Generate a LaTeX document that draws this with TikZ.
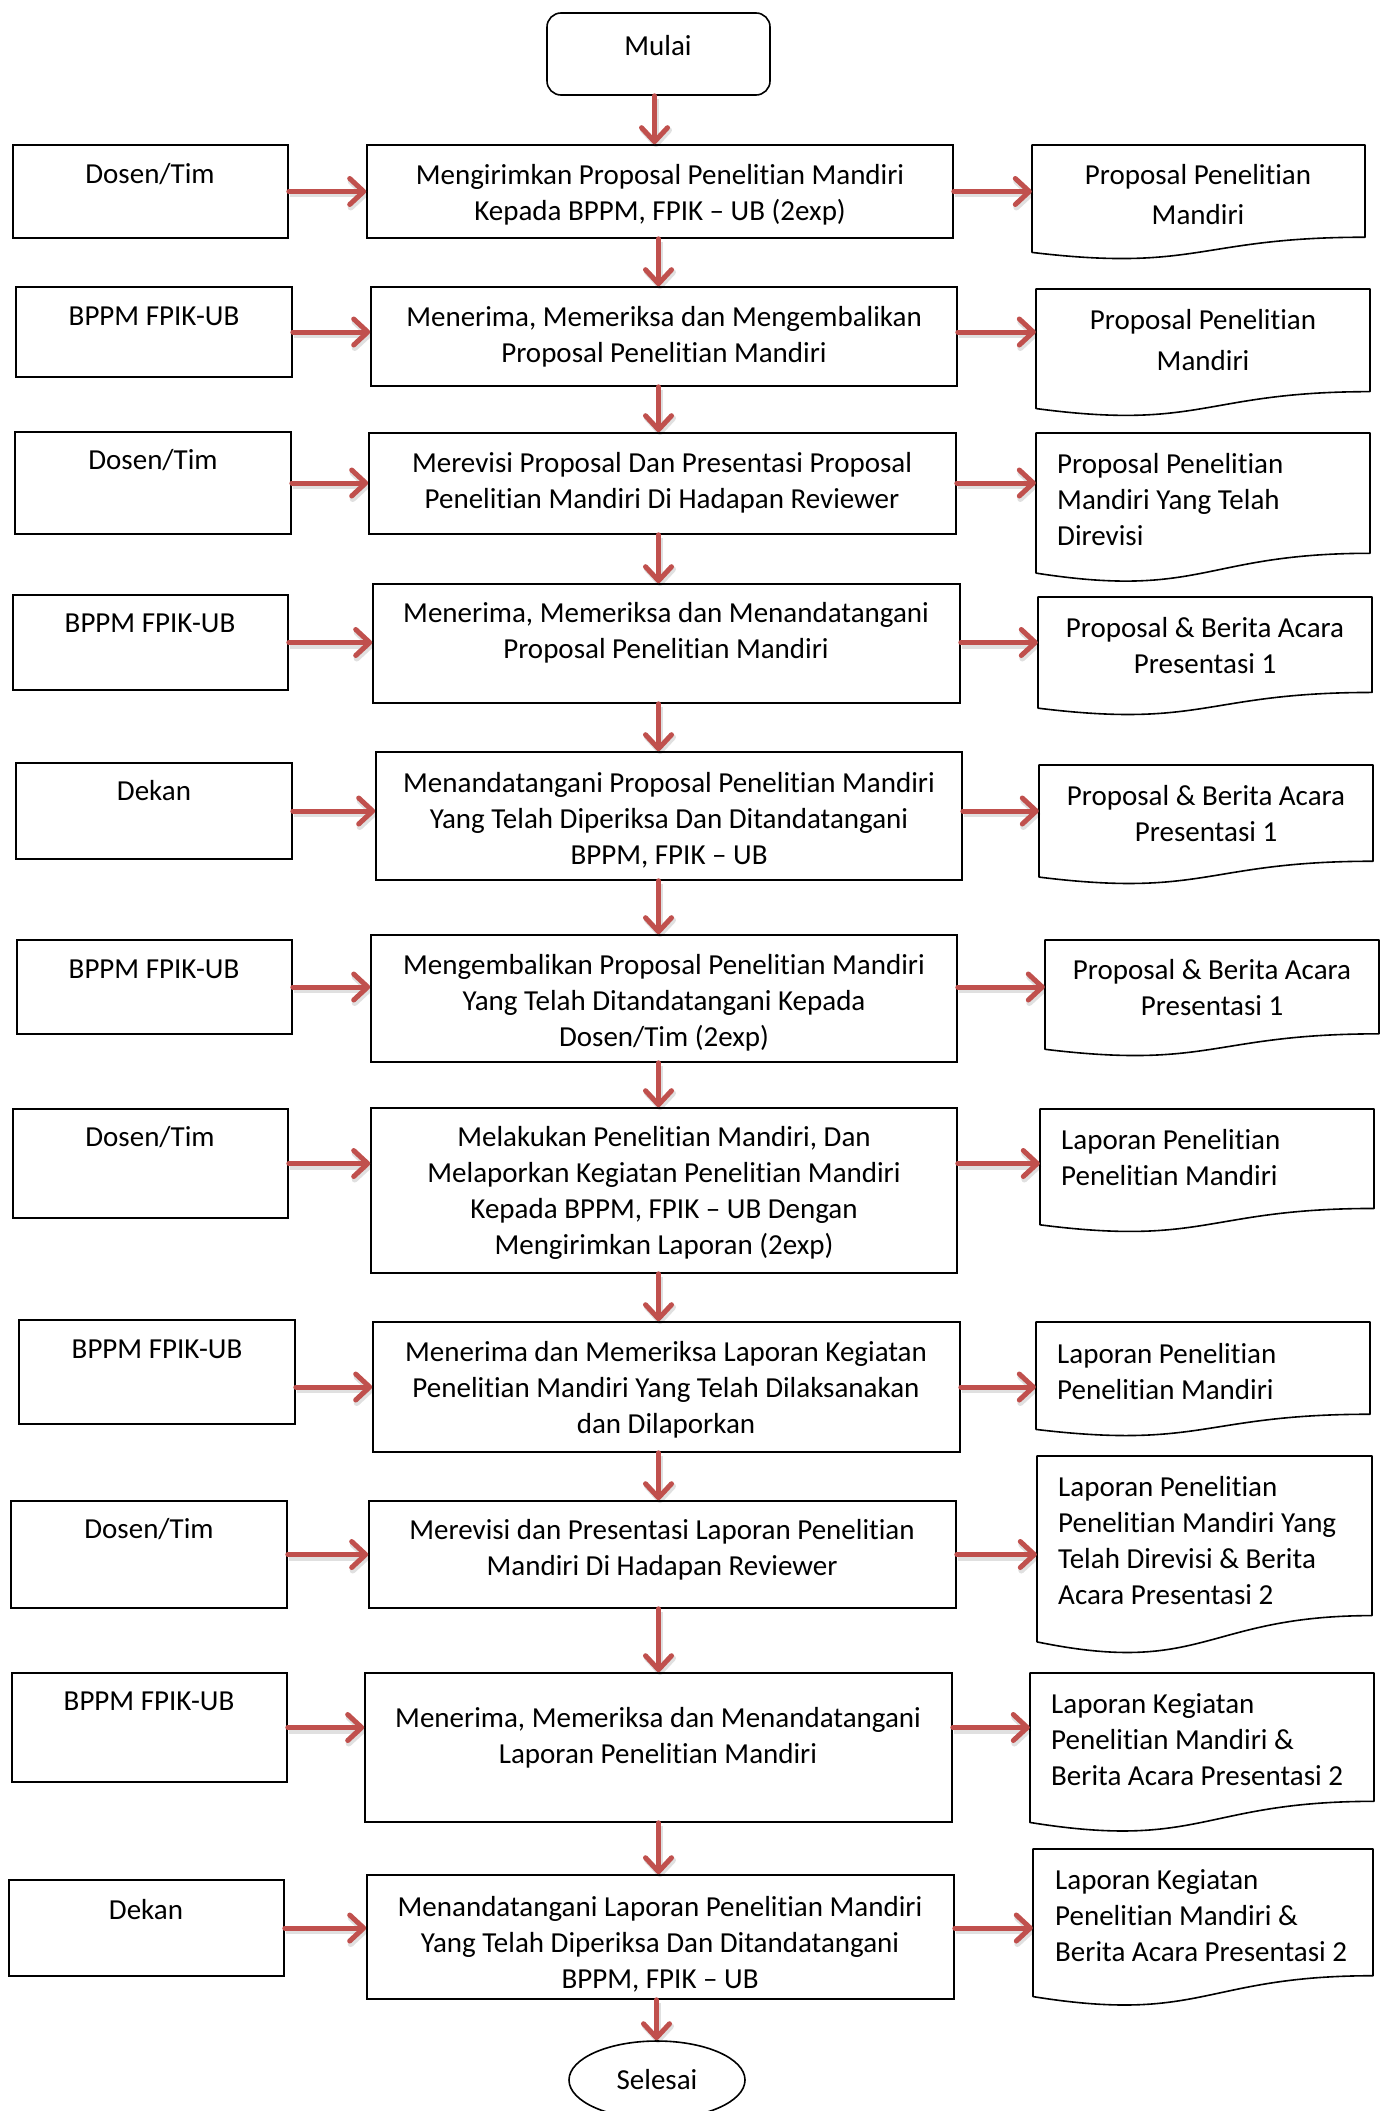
\documentclass[tikz,border=0pt]{standalone}
\usepackage{fontspec}
\setmainfont{Carlito}[Ligatures={NoCommon,NoContextual}]
\usetikzlibrary{arrows.meta,shapes.geometric,calc}
\definecolor{arrred}{HTML}{C0504D}
\newcommand\boxat[5]{%
  \node[box, minimum width={#4-#2}, minimum height={#5-#3}] (#1) at ({(#2+#4)/2},{(#3+#5)/2}) {};}
\newcommand\docat[5]{%
  \node[inner sep=0, minimum width={#4-#2}, minimum height={0.802*#5}] (#1) at ({(#2+#4)/2},{#3+0.401*#5}) {};
  \draw[line width=1.6pt, line join=round] (#2,#3) -- (#4,#3) -- (#4,{#3+0.802*#5})
    .. controls ({(#2+#4)/2},{#3+0.802*#5}) and ({(#2+#4)/2},{#3+1.1075*#5}) .. (#2,{#3+0.934*#5}) -- cycle;}
\begin{document}
\begin{tikzpicture}[x=1pt,y=-1pt,
  box/.style={draw, line width=1.6pt, inner sep=0},
  txt/.style={inner sep=0, font=\fontsize{29}{36}\selectfont, align=center},
  ltxt/.style={txt, align=left, anchor=west},
  flow/.style={draw=arrred, line width=5pt, line cap=round,
    -{Straight Barb[length=14pt,width=26pt,round]},
    preaction={draw=black, opacity=0.12, line width=6pt,
      transform canvas={shift={(1.5pt,-3pt)}}}}]
\useasboundingbox (0,0) rectangle (1381,2111);
% start / end
\node[box, rounded corners=14pt, minimum width=223, minimum height=82] (start) at (658.5,54) {};
\node[txt] (tstart) at (658,46) {Mulai};
\node[draw, ellipse, line width=1.6pt, minimum width=176, minimum height=78, inner sep=0,
  font=\fontsize{29}{36}\selectfont] (finish) at (657,2080) {Selesai};
% row 1
\boxat{l1}{13}{145}{288}{238}
\boxat{m1}{367}{145}{953}{238}
\docat{r1}{1032}{145}{1365}{115}
\node[txt] (tl1) at (150,174) {Dosen/Tim};
\node[txt] (tm1) at (660,195) {Mengirimkan Proposal Penelitian Mandiri\\Kepada BPPM, FPIK – UB (2exp)};
\node[txt] (tr1) at (1198,195) {Proposal Penelitian\\[4pt]Mandiri};
% row 2
\boxat{l2}{16}{287}{292}{377}
\boxat{m2}{371}{287}{957}{386}
\docat{r2}{1036}{289}{1370}{128}
\node[txt] (tl2) at (154,316) {BPPM FPIK-UB};
\node[txt] (tm2) at (664,337) {Menerima, Memeriksa dan Mengembalikan\\Proposal Penelitian Mandiri};
\node[txt] (tr2) at (1203,340) {Proposal Penelitian\\[5pt]Mandiri};
% row 3
\boxat{l3}{15}{432}{291}{534}
\boxat{m3}{369}{433}{956}{534}
\docat{r3}{1036}{433}{1370}{150}
\node[txt] (tl3) at (153,460) {Dosen/Tim};
\node[txt] (tm3) at (662,483) {Merevisi Proposal Dan Presentasi Proposal\\Penelitian Mandiri Di Hadapan Reviewer};
\node[ltxt] (tr3) at (1057,500) {Proposal Penelitian\\Mandiri Yang Telah\\Direvisi};
% row 4
\boxat{l4}{13}{595}{288}{690}
\boxat{m4}{373}{584}{960}{703}
\docat{r4}{1038}{597}{1372}{119}
\node[txt] (tl4) at (150,623) {BPPM FPIK-UB};
\node[txt] (tm4) at (666,633) {Menerima, Memeriksa dan Menandatangani\\Proposal Penelitian Mandiri};
\node[txt] (tr4) at (1205,646) {Proposal \& Berita Acara\\Presentasi 1};
% row 5
\boxat{l5}{16}{763}{292}{859}
\boxat{m5}{376}{752}{962}{880}
\docat{r5}{1039}{765}{1373}{120}
\node[txt] (tl5) at (154,791) {Dekan};
\node[txt] (tm5) at (669,820) {Menandatangani Proposal Penelitian Mandiri\\Yang Telah Diperiksa Dan Ditandatangani\\BPPM, FPIK – UB};
\node[txt] (tr5) at (1206,814) {Proposal \& Berita Acara\\Presentasi 1};
% row 6
\boxat{l6}{17}{940}{292}{1034}
\boxat{m6}{371}{935}{957}{1062}
\docat{r6}{1045}{940}{1379}{117}
\node[txt] (tl6) at (154,969) {BPPM FPIK-UB};
\node[txt] (tm6) at (664,1003) {Mengembalikan Proposal Penelitian Mandiri\\Yang Telah Ditandatangani Kepada\\Dosen/Tim (2exp)};
\node[txt] (tr6) at (1212,988) {Proposal \& Berita Acara\\Presentasi 1};
% row 7
\boxat{l7}{13}{1109}{288}{1218}
\boxat{m7}{371}{1108}{957}{1273}
\docat{r7}{1040}{1109}{1374}{124}
\node[txt] (tl7) at (150,1137) {Dosen/Tim};
\node[txt] (tm7) at (664,1193) {Melakukan Penelitian Mandiri, Dan\\Melaporkan Kegiatan Penelitian Mandiri\\Kepada BPPM, FPIK – UB Dengan\\Mengirimkan Laporan (2exp)};
\node[ltxt] (tr7) at (1061,1158) {Laporan Penelitian\\Penelitian Mandiri};
% row 8
\boxat{l8}{19}{1320}{295}{1424}
\boxat{m8}{373}{1322}{960}{1452}
\docat{r8}{1036}{1322}{1370}{115}
\node[txt] (tl8) at (157,1349) {BPPM FPIK-UB};
\node[txt] (tm8) at (666,1390) {Menerima dan Memeriksa Laporan Kegiatan\\Penelitian Mandiri Yang Telah Dilaksanakan\\dan Dilaporkan};
\node[ltxt] (tr8) at (1057,1372) {Laporan Penelitian\\Penelitian Mandiri};
% row 9
\boxat{l9}{11}{1501}{287}{1608}
\boxat{m9}{369}{1501}{956}{1608}
\docat{r9}{1037}{1456}{1372}{199}
\node[txt] (tl9) at (149,1529) {Dosen/Tim};
\node[txt] (tm9) at (662,1550) {Merevisi dan Presentasi Laporan Penelitian\\Mandiri Di Hadapan Reviewer};
\node[ltxt] (tr9) at (1058,1541) {Laporan Penelitian\\Penelitian Mandiri Yang\\Telah Direvisi \& Berita\\Acara Presentasi 2};
% row 10
\boxat{l10}{12}{1673}{287}{1782}
\boxat{m10}{365}{1673}{952}{1822}
\docat{r10}{1030}{1673}{1374}{160}
\node[txt] (tl10) at (149,1701) {BPPM FPIK-UB};
\node[txt] (tm10) at (658,1738) {Menerima, Memeriksa dan Menandatangani\\Laporan Penelitian Mandiri};
\node[ltxt] (tr10) at (1051,1740) {Laporan Kegiatan\\Penelitian Mandiri \&\\Berita Acara Presentasi 2};
% row 11
\boxat{l11}{9}{1880}{284}{1976}
\boxat{m11}{367}{1875}{954}{1999}
\docat{r11}{1033}{1849}{1373}{158}
\node[txt] (tl11) at (146,1910) {Dekan};
\node[txt] (tm11) at (660,1944) {Menandatangani Laporan Penelitian Mandiri\\Yang Telah Diperiksa Dan Ditandatangani\\BPPM, FPIK – UB};
\node[ltxt] (tr11) at (1055,1916) {Laporan Kegiatan\\Penelitian Mandiri \&\\Berita Acara Presentasi 2};
% vertical flow
\draw[flow] ([xshift=-4pt]start.south) -- ([xshift=-4pt]start.south |- m1.north);
\foreach \a/\b in {1/2,2/3,3/4,4/5,5/6,6/7,7/8,8/9,9/10,10/11}
  \draw[flow] (m\a.south -| start.south) -- (start.south |- m\b.north);
\draw[flow] ([xshift=-4pt]m11.south) -- ([xshift=-4pt]m11.south |- finish.north);
% horizontal flow
\foreach \i in {1,2,3,4,5,6,7,9,10,11}{
  \draw[flow] (l\i.east) -- (l\i.east -| m\i.west);
  \draw[flow] (m\i.east |- l\i.east) -- (r\i.west |- l\i.east);
}
\draw[flow] (l8.east |- m8.west) -- (m8.west);
\draw[flow] (m8.east) -- (r8.west |- m8.east);
\end{tikzpicture}
\end{document}
